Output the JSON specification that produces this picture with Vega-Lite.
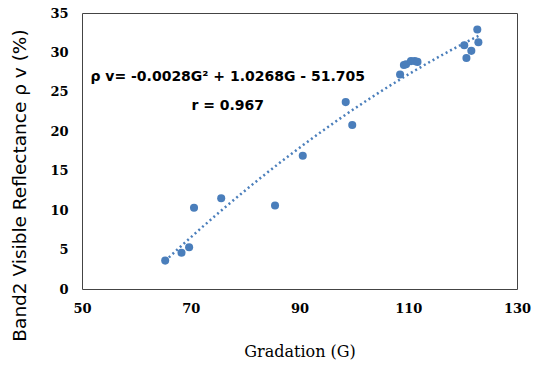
{
  "$schema": "https://vega.github.io/schema/vega-lite/v6.json",
  "autosize": "none",
  "width": 435,
  "height": 276,
  "padding": {"left": 82, "top": 13, "right": 25, "bottom": 76},
  "background": "white",
  "config": {"view": {"stroke": "#444", "strokeWidth": 1}, "axis": {"labelOverlap": false, "labelFlush": false, "grid": false, "ticks": false, "domain": false}},
  "datasets": {
    "pts": [
      {"G": 65.3, "v": 3.6},
      {"G": 68.3, "v": 4.6},
      {"G": 69.7, "v": 5.3},
      {"G": 70.6, "v": 10.3},
      {"G": 75.6, "v": 11.5},
      {"G": 85.5, "v": 10.6},
      {"G": 90.6, "v": 16.9},
      {"G": 98.5, "v": 23.7},
      {"G": 99.7, "v": 20.8},
      {"G": 108.5, "v": 27.2},
      {"G": 109.2, "v": 28.4},
      {"G": 109.6, "v": 28.5},
      {"G": 110.5, "v": 28.9},
      {"G": 111.2, "v": 28.9},
      {"G": 111.7, "v": 28.8},
      {"G": 120.3, "v": 30.9},
      {"G": 120.7, "v": 29.3},
      {"G": 121.6, "v": 30.2},
      {"G": 122.7, "v": 32.9},
      {"G": 122.9, "v": 31.3}
    ],
    "notes": [
      {"G": 76.8, "v": 26.9, "label": "ρ v= -0.0028G² + 1.0268G - 51.705"},
      {"G": 76.8, "v": 23.2, "label": "r = 0.967"}
    ]
  },
  "encoding": {
    "x": {"field": "G", "type": "quantitative", "scale": {"domain": [50, 130]},
      "axis": {"values": [50, 70, 90, 110, 130], "title": "Gradation (G)",
        "labelFont": "DejaVu Serif", "labelFontWeight": "bold", "labelFontSize": 13, "labelColor": "#000", "labelPadding": 13,
        "titleFont": "DejaVu Serif", "titleFontWeight": "normal", "titleFontSize": 16, "titleColor": "#000", "titlePadding": 28}},
    "y": {"field": "v", "type": "quantitative", "scale": {"domain": [0, 35]},
      "axis": {"values": [0, 5, 10, 15, 20, 25, 30, 35], "title": "Band2 Visible Reflectance ρ v (%)",
        "labelFont": "DejaVu Serif", "labelFontWeight": "bold", "labelFontSize": 13, "labelColor": "#000", "labelPadding": 14,
        "titleFont": "DejaVu Sans", "titleFontWeight": "normal", "titleFontSize": 18.5, "titleColor": "#000", "titlePadding": 20, "titleY": 172}}
  },
  "layer": [
    {
      "data": {"name": "pts"},
      "transform": [{"regression": "v", "on": "G", "method": "poly", "order": 2, "extent": [65.3, 122.9]}],
      "mark": {"type": "line", "color": "#4a7ebb", "strokeWidth": 2.5, "strokeDash": [2, 3], "clip": true}
    },
    {
      "data": {"name": "pts"},
      "mark": {"type": "circle", "color": "#4a7ebb", "opacity": 1, "size": 65}
    },
    {
      "data": {"name": "notes"},
      "mark": {"type": "text", "font": "DejaVu Sans", "fontSize": 14, "fontWeight": "bold", "color": "#000", "align": "center", "baseline": "middle"},
      "encoding": {
        "text": {"field": "label"}
      }
    }
  ]
}
